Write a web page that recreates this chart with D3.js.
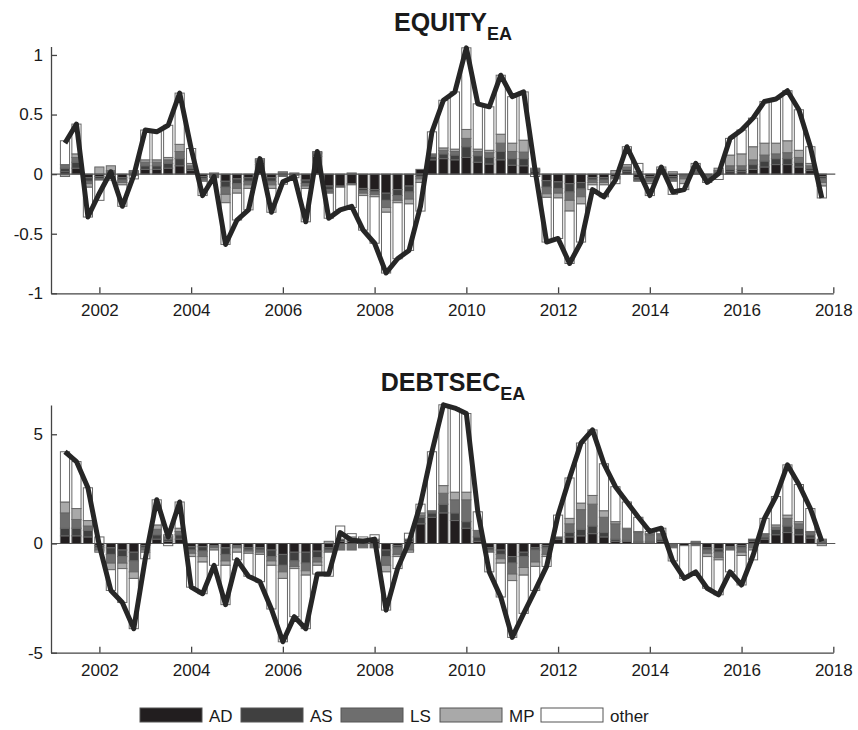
<!DOCTYPE html>
<html><head><meta charset="utf-8">
<script src="https://cdn.jsdelivr.net/npm/d3@7"></script>
<style>
body{margin:0;background:#fff}
svg{display:block}
text{font-family:"Liberation Sans",Arial,Helvetica,sans-serif;fill:#1a1a1a}
</style>
</head><body>
<svg id="chart" width="858" height="730"></svg>
<script>
// ---------------- DATA ----------------
const firstQuarter = 2001.25;   // first bar (quarterly data)
const quarterStep = 0.25;
const xTickYears = [2002, 2004, 2006, 2008, 2010, 2012, 2014, 2016, 2018];
const eqTickValues = [-1, -0.5, 0, 0.5, 1];
const dsTickValues = [-5, 0, 5];
const seriesNames = ["AD", "AS", "LS", "MP", "other"];
const seriesColors = ["#221e1f", "#404040", "#6e6e6e", "#a9a9a9", "#ffffff"];

// EQUITY_EA
const eqTotal = [0.26,0.42,-0.36,-0.16,0.02,-0.27,-0.01,0.37,0.355,0.41,0.68,0.215,-0.18,-0.02,-0.59,-0.385,-0.30,0.13,-0.32,-0.065,-0.02,-0.40,0.19,-0.37,-0.30,-0.27,-0.47,-0.58,-0.83,-0.71,-0.64,-0.27,0.355,0.62,0.69,1.06,0.59,0.565,0.83,0.65,0.69,0.03,-0.57,-0.54,-0.75,-0.57,-0.13,-0.19,-0.05,0.23,0.03,-0.18,0.06,-0.15,-0.13,0.09,-0.07,0.005,0.30,0.37,0.47,0.61,0.63,0.70,0.54,0.23,-0.20];
const eqAD = [.02,.05,-.03,-.02,.01,-.03,-.01,.04,.04,.05,.07,.03,-.02,-.01,-.06,-.04,-.03,.08,-.03,-.01,-.01,-.05,.15,-.10,-.10,-.08,-.12,-.13,-.16,-.13,-.10,.04,.12,.13,.12,.14,.10,.085,.12,.075,.07,.02,-.055,-.065,-.08,-.07,-.03,-.03,-.02,.02,-.03,-.02,.01,-.02,-.01,.01,-.01,.01,.02,.02,.04,.06,.08,.08,.06,.03,-.02];
const eqAS = [.03,.05,-.03,-.02,.01,-.02,.01,.03,.03,.04,.06,.02,-.02,-.01,-.05,-.04,-.03,.02,-.03,-.01,0,-.03,.02,-.03,-.01,-.01,-.02,-.02,-.06,-.05,-.05,-.02,.03,.04,.04,.09,.055,.055,.07,.055,.06,.01,-.055,-.055,-.07,-.055,-.02,-.02,-.01,.02,-.02,-.02,.01,-.02,-.01,.01,-.01,.01,.02,.02,.04,.05,.05,.05,.04,.02,-.02];
const eqLS = [.03,.04,-.02,-.01,.01,-.02,.01,.03,.03,.03,.06,.02,-.01,-.01,-.06,-.04,-.03,.01,-.03,.01,0,-.02,.01,-.02,0,0,-.02,-.02,-.06,-.04,-.06,-.02,.01,.03,.03,.07,.035,.04,.07,.06,.055,.01,-.055,-.04,-.07,-.065,-.02,-.02,-.01,.02,-.01,-.02,.01,-.02,-.02,.01,-.01,.01,.03,.03,.04,.05,.04,.05,.04,.02,-.03];
const eqMP = [-.02,.03,-.03,.06,.04,-.02,.01,.02,.02,.02,.06,.02,-.01,.01,-.07,-.04,-.03,.01,-.03,.01,.01,-.02,.01,-.01,0,.01,-.02,-.02,-.04,-.02,-.04,-.03,.01,.02,.02,.075,.02,.02,.075,.07,.10,.01,-.03,-.04,-.09,-.06,-.02,-.02,.03,.02,.02,-.02,.01,.02,-.04,.03,-.01,.02,.09,.10,.11,.10,.09,.10,.06,.02,-.03];
const eqOther = [.20,.25,-.25,-.17,-.05,-.18,-.03,.25,.235,.27,.43,.125,-.12,0,-.35,-.225,-.18,.01,-.20,-.065,-.02,-.28,0,-.21,-.19,-.19,-.29,-.39,-.51,-.47,-.39,-.24,.185,.40,.48,.685,.38,.365,.495,.39,.405,-.02,-.375,-.34,-.44,-.32,-.04,-.10,-.04,.15,.07,-.10,.02,-.11,-.05,.03,-.03,-.045,.14,.20,.24,.35,.37,.42,.34,.14,-.10];

// DEBTSEC_EA
const dsTotal = [4.2,3.75,2.55,-0.1,-2.15,-2.7,-3.9,-0.7,2.0,0.3,1.9,-2.0,-2.3,-1.0,-2.8,-0.75,-1.5,-1.75,-3.0,-4.5,-3.35,-3.9,-1.4,-1.4,0.5,0.15,0.1,0.2,-3.05,-1.15,0.07,1.8,4.2,6.35,6.2,5.95,1.45,-1.3,-2.45,-4.3,-3.2,-2.15,-1.05,1.3,3.0,4.6,5.2,3.65,2.6,1.9,1.2,0.55,0.7,-0.8,-1.6,-1.3,-2.05,-2.35,-1.3,-1.9,-0.55,1.15,2.15,3.6,2.7,1.6,0.1];
const dsAD = [.35,.35,.3,-.1,-.2,-.3,-.4,-.1,.2,.1,.2,-.15,-.15,-.1,-.2,-.1,-.2,-.2,-.3,-.5,-.4,-.4,-.35,-.2,.1,.1,.1,.1,-.3,-.1,.1,.9,1.2,1.4,1.05,.7,.1,-.2,-.3,-.6,-.4,-.2,-.1,.2,.3,.35,.45,.3,.1,.1,.05,.05,.1,-.05,-.1,-.05,-.2,-.25,-.15,-.1,.1,.2,.4,.5,.4,.25,.05];
const dsAS = [.35,.35,.3,-.1,-.3,-.3,-.4,-.1,.2,.1,.2,-.15,-.2,-.05,-.3,-.05,-.1,-.1,-.3,-.5,-.4,-.5,-.3,-.1,.1,.1,.1,.1,-.3,-.1,.1,.3,.2,.4,.35,.3,.2,-.1,-.2,-.3,-.2,-.1,-.1,.1,.2,.3,.35,.2,.1,.05,.05,.05,.1,-.05,0,-.05,-.1,-.15,-.05,-.1,.1,.1,.25,.3,.3,.15,.05];
const dsLS = [.7,.4,.2,-.1,-.4,-.3,-.5,-.1,.25,.1,.15,-.15,-.25,-.05,-.3,-.05,-.05,-.1,-.2,-.3,-.25,-.35,-.2,-.1,-.3,-.3,-.2,-.2,-.4,-.3,-.3,.1,.05,.5,.6,1.0,.3,-.1,-.2,-.5,-.5,-.55,-.3,0,.4,.9,1.0,.7,.7,.5,.4,.3,.2,-.05,0,.05,-.15,-.25,-.05,-.2,-.2,.1,.1,.35,.2,.1,.05];
const dsMP = [.5,.5,.25,-.1,-.3,-.25,-.3,-.1,.2,.1,.15,-.15,-.25,-.1,-.2,-.2,-.1,-.1,-.2,-.3,-.1,-.2,-.15,.1,0,.1,0,0,-.3,-.1,-.1,.1,.05,.35,.35,.35,0,0,-.2,-.3,-.35,-.2,-.1,0,.25,.3,.4,.3,.1,.05,.05,.05,.05,-.05,0,.05,-.15,-.1,-.05,-.15,-.1,.05,.1,.15,.1,.05,-.1];
const dsOther = [2.3,2.15,1.5,.3,-.95,-1.55,-2.3,-.3,1.15,-.1,1.2,-1.4,-1.45,-.7,-1.8,-.35,-1.05,-1.25,-2.0,-2.9,-2.2,-2.45,-.4,-1.1,.6,.15,.1,.2,-1.75,-.55,.27,.4,2.7,3.7,3.85,3.6,.85,-.9,-1.55,-2.6,-1.75,-1.1,-.45,1.0,1.85,2.75,3.0,2.15,1.6,1.2,.65,.1,.25,-.6,-1.5,-1.3,-1.45,-1.6,-1.0,-1.35,-.45,.7,1.3,2.3,1.7,1.05,.05];

// ---------------- DRAW ----------------
const svg = d3.select("#chart");
const x = d3.scaleLinear().domain([2000.945, 2018]).range([51, 833.3]);
const qx = i => firstQuarter + quarterStep * i;
const barW = (x(firstQuarter + quarterStep) - x(firstQuarter)) * 0.8;

const panels = [
  {title: "EQUITY", sub: "EA", total: eqTotal, comps: [eqAD, eqAS, eqLS, eqMP, eqOther],
   y: d3.scaleLinear().domain([-1, 1.071]).range([293.3, 46.5]), ticks: eqTickValues, titleY: 31},
  {title: "DEBTSEC", sub: "EA", total: dsTotal, comps: [dsAD, dsAS, dsLS, dsMP, dsOther],
   y: d3.scaleLinear().domain([-5, 6.34]).range([652.7, 405]), ticks: dsTickValues, titleY: 391}
];

const fmt = v => String(v).replace("\u2212", "-");

panels.forEach(p => {
  const g = svg.append("g");
  const y = p.y;
  // stacked bars
  const rects = [];
  p.total.forEach((t, i) => {
    let pos = 0, neg = 0;
    p.comps.forEach((arr, s) => {
      const v = arr[i];
      if (v === 0) return;
      let a, b;
      if (v > 0) { a = pos; b = pos + v; pos = b; } else { a = neg; b = neg + v; neg = b; }
      rects.push({i, s, a, b});
    });
  });
  g.selectAll("rect.bar").data(rects).join("rect")
    .attr("class", "bar")
    .attr("x", d => x(qx(d.i)) - barW / 2)
    .attr("width", barW)
    .attr("y", d => y(Math.max(d.a, d.b)))
    .attr("height", d => Math.abs(y(d.a) - y(d.b)))
    .attr("fill", d => seriesColors[d.s])
    .attr("stroke", "#666")
    .attr("stroke-width", 1);

  // zero baseline
  g.append("line")
    .attr("x1", x.range()[0]).attr("x2", x(2018) + 2)
    .attr("y1", y(0)).attr("y2", y(0))
    .attr("stroke", "#555").attr("stroke-width", 1.2);

  // total line
  g.append("path")
    .datum(p.total)
    .attr("fill", "none")
    .attr("stroke", "#262626")
    .attr("stroke-width", 5)
    .attr("stroke-linejoin", "round")
    .attr("d", d3.line().x((d, i) => x(qx(i))).y(d => y(d)));

  // axes
  const xa = g.append("g").attr("transform", `translate(0,${y.range()[0]})`)
    .call(d3.axisBottom(x).tickValues(xTickYears).tickFormat(d3.format("d"))
      .tickSizeInner(-6).tickSizeOuter(0).tickPadding(11));
  const ya = g.append("g").attr("transform", `translate(${x.range()[0]},0)`)
    .call(d3.axisLeft(y).tickValues(p.ticks).tickFormat(fmt)
      .tickSizeInner(-6).tickSizeOuter(0).tickPadding(8));
  [xa, ya].forEach(a => {
    a.select(".domain").attr("stroke", "#444").attr("stroke-width", 1.3);
    a.selectAll(".tick line").attr("stroke", "#444").attr("stroke-width", 1.3);
    a.selectAll(".tick text").attr("font-size", 17).attr("fill", "#1a1a1a")
      .style("font-family", '"Liberation Sans", Arial, sans-serif');
  });

  // title
  const tt = g.append("text").attr("x", 453).attr("y", p.titleY)
    .attr("text-anchor", "middle").attr("font-weight", "bold");
  tt.append("tspan").attr("font-size", 25).text(p.title);
  tt.append("tspan").attr("font-size", 18).attr("dy", 9).text(p.sub);
});

// legend
const legendX = [140, 241, 341, 440, 541];
const lg = svg.append("g");
seriesNames.forEach((n, s) => {
  lg.append("rect").attr("x", legendX[s]).attr("y", 708).attr("width", 62).attr("height", 14)
    .attr("fill", seriesColors[s]).attr("stroke", "#555").attr("stroke-width", 1);
  lg.append("text").attr("x", legendX[s] + 69).attr("y", 722).attr("font-size", 17).text(n);
});
</script>
</body></html>
